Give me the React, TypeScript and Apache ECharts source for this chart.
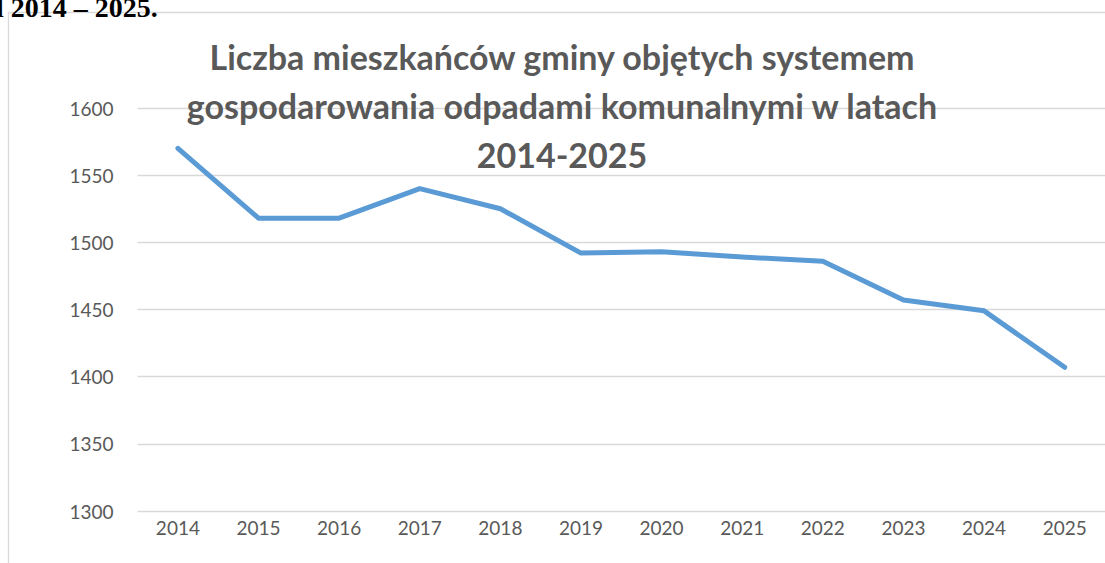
import React, { useEffect, useRef } from "react";
import * as echarts from "echarts";

const years = ["2014", "2015", "2016", "2017", "2018", "2019", "2020", "2021", "2022", "2023", "2024", "2025"];
const residents = [1570, 1518, 1518, 1540, 1525, 1492, 1493, 1489, 1486, 1457, 1449, 1407];
const chartTitle = "Liczba mieszkańców gminy objętych systemem\ngospodarowania odpadami komunalnymi w latach\n2014-2025";
const captionText = "l 2014 – 2025.";

export default function App() {
  const ref = useRef<HTMLDivElement>(null);
  useEffect(() => {
    if (!ref.current) return;
    const chart = echarts.init(ref.current, null, { renderer: "svg" });
    chart.setOption({
      animation: false,
      backgroundColor: "#ffffff",
      title: {
        text: chartTitle,
        left: 562,
        top: 32,
        padding: 0,
        textAlign: "center",
        textStyle: {
          fontFamily: "Lato",
          fontWeight: "bold",
          fontSize: 34,
          lineHeight: 49,
          color: "#595959",
        },
      },
      graphic: [
        {
          type: "rect",
          shape: { x: 8.5, y: 12.5, width: 1200, height: 700 },
          style: { fill: "none", stroke: "#d9d9d9", lineWidth: 1.3 },
          silent: true,
        },
        {
          type: "text",
          left: -4,
          top: -7,
          style: {
            text: captionText,
            font: "bold 28px 'Liberation Serif'",
            fill: "#000000",
          },
        },
      ],
      grid: { left: 137.6, top: 108, width: 970, height: 403, containLabel: false },
      xAxis: {
        type: "category",
        data: years,
        boundaryGap: true,
        axisLine: { show: false },
        axisTick: { show: false },
        axisLabel: { color: "#595959", fontFamily: "Lato", fontSize: 19, margin: 7 },
      },
      yAxis: {
        type: "value",
        min: 1300,
        max: 1600,
        interval: 50,
        axisLine: { show: false },
        axisTick: { show: false },
        splitLine: { lineStyle: { color: "#d9d9d9", width: 1.3 } },
        axisLabel: {
          color: "#595959",
          fontFamily: "Lato",
          fontSize: 19,
          margin: 24,
          formatter: (v: number) => String(v),
        },
      },
      series: [
        {
          type: "line",
          data: residents,
          showSymbol: false,
          symbol: "none",
          lineStyle: { color: "#5b9bd5", width: 5, cap: "round", join: "round" },
        },
      ],
    });
    return () => chart.dispose();
  }, []);
  return (
    <div
      ref={ref}
      style={{ position: "fixed", left: 0, top: 0, width: 1105, height: 563 }}
    />
  );
}
